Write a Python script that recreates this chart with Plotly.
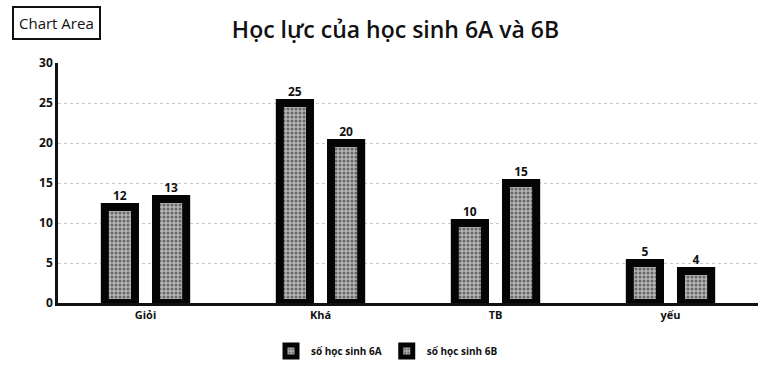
import plotly.graph_objects as go

categories = ["Giỏi", "Khá", "TB", "yếu"]
class_6a = [12, 25, 10, 5]
class_6b = [13, 20, 15, 4]
series_names = ["số học sinh 6A", "số học sinh 6B"]
y_ticks = [0, 5, 10, 15, 20, 25, 30]

font_family = "Open Sans, DejaVu Sans, sans-serif"

fig = go.Figure()
for name, vals in zip(series_names, [class_6a, class_6b]):
    fig.add_trace(go.Bar(
        x=categories, y=vals, name=name,
        text=[str(v) for v in vals], textposition="outside",
        textfont=dict(size=12, color="#111", family=font_family, weight="bold"),
        cliponaxis=False,
        marker=dict(
            color="#8a8a8a",
            line=dict(color="#050505", width=8),
            pattern=dict(shape=".", fgcolor="#1a1a1a", bgcolor="#b5b5b5",
                         size=4, solidity=0.45, fillmode="overlay"),
        ),
    ))

fig.update_layout(
    width=768, height=375,
    margin=dict(l=58, r=10, t=63, b=67),
    paper_bgcolor="white", plot_bgcolor="white",
    barmode="group", bargap=0.415, bargroupgap=0.41,
    font=dict(family=font_family, color="#111"),
    title=dict(text="Học lực của học sinh 6A và 6B", x=0.515, xanchor="center",
               y=0.92, yanchor="middle",
               font=dict(size=23, color="#111", family=font_family, weight=600)),
    xaxis=dict(showline=True, linecolor="#111", linewidth=2.5, ticks="",
               tickfont=dict(size=11, color="#111", family=font_family, weight="bold"),
               showgrid=False),
    yaxis=dict(range=[0, 30], tickvals=y_ticks, showline=True, linecolor="#111",
               linewidth=2.5, ticks="", zeroline=False,
               showgrid=True, gridcolor="#c8c8c8", griddash="dot", gridwidth=1,
               tickfont=dict(size=12, color="#111", family=font_family, weight="bold")),
    legend=dict(orientation="h", x=0.47, xanchor="center", y=-0.2, yanchor="middle",
                font=dict(size=10, color="#111", family=font_family, weight="bold"),
                itemwidth=30),
    showlegend=True,
)

fig.add_annotation(
    text="Chart Area", xref="paper", yref="paper", x=-0.066, y=1.165,
    xanchor="left", yanchor="middle", showarrow=False,
    font=dict(size=15, color="#111", family=font_family),
    bordercolor="#111", borderwidth=2, borderpad=5, bgcolor="white",
)

fig.write_html("out.html")
